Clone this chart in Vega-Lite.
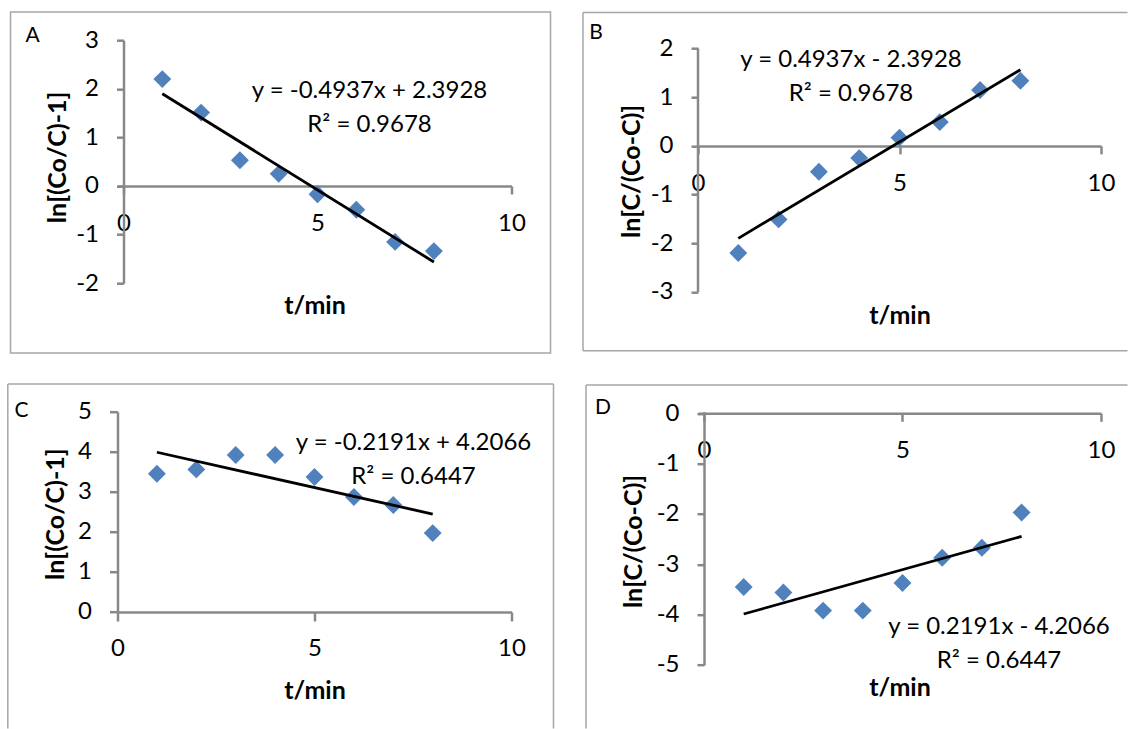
{
  "$schema": "https://vega.github.io/schema/vega-lite/v6.json",
  "background": "white",
  "padding": {"left": 6.5, "top": 10.2, "right": 0, "bottom": 0},
  "autosize": {"type": "pad"},
  "columns": 2,
  "align": "all",
  "bounds": "full",
  "spacing": {"row": 24.5, "column": 27.5},
  "datasets": {
    "A": [{"t": 1, "v": 2.2}, {"t": 2, "v": 1.51}, {"t": 3, "v": 0.53}, {"t": 4, "v": 0.25}, {"t": 5, "v": -0.17}, {"t": 6, "v": -0.49}, {"t": 7, "v": -1.15}, {"t": 8, "v": -1.34}],
    "B": [{"t": 1, "v": -2.2}, {"t": 2, "v": -1.51}, {"t": 3, "v": -0.53}, {"t": 4, "v": -0.25}, {"t": 5, "v": 0.17}, {"t": 6, "v": 0.49}, {"t": 7, "v": 1.15}, {"t": 8, "v": 1.34}],
    "C": [{"t": 1, "v": 3.45}, {"t": 2, "v": 3.56}, {"t": 3, "v": 3.92}, {"t": 4, "v": 3.92}, {"t": 5, "v": 3.37}, {"t": 6, "v": 2.87}, {"t": 7, "v": 2.67}, {"t": 8, "v": 1.97}],
    "D": [{"t": 1, "v": -3.45}, {"t": 2, "v": -3.56}, {"t": 3, "v": -3.92}, {"t": 4, "v": -3.92}, {"t": 5, "v": -3.37}, {"t": 6, "v": -2.87}, {"t": 7, "v": -2.67}, {"t": 8, "v": -1.97}]
  },
  "concat": [
    {
      "width": 394, "height": 243,
      "layer": [
        {"data": {"values": [{}]}, "mark": {"type": "rect", "fill": "transparent", "stroke": "#a6a6a6", "strokeWidth": 1.5},
         "encoding": {"x": {"datum": -2.912}, "x2": {"datum": 11.005}, "y": {"datum": 3.582}, "y2": {"datum": -3.434}}},
        {"data": {"name": "A"}, "mark": {"type": "point", "shape": "diamond", "filled": true, "size": 320, "color": "#4F81BD", "opacity": 1},
         "encoding": {
           "x": {"field": "t", "type": "quantitative", "scale": {"domain": [-0.1546, 10], "nice": false, "zero": false},
                 "axis": {"title": "t/min", "values": [0, 5, 10], "offset": -97.2, "tickSize": 8, "labelPadding": 30, "titleY": 120}},
           "y": {"field": "v", "type": "quantitative", "scale": {"domain": [-2, 3], "nice": false, "zero": false},
                 "axis": {"title": "ln[(Co/C)-1]", "values": [-2, -1, 0, 1, 2, 3], "labelExpr": "replace(datum.label, '\u2212', '-')", "offset": -6, "tickSize": 7, "labelPadding": 18, "titleX": -66, "titleY": 116.7}}
         }},
        {"data": {"name": "A"}, "transform": [{"regression": "v", "on": "t"}], "mark": {"type": "line", "color": "black", "strokeWidth": 2.8},
         "encoding": {"x": {"field": "t", "type": "quantitative", "title": "t/min"}, "y": {"field": "v", "type": "quantitative", "title": "ln[(Co/C)-1]"}}},
        {"data": {"values": [{}]}, "mark": {"type": "text", "fontSize": 24, "lineBreak": "\n", "lineHeight": 34, "align": "center", "baseline": "middle", "color": "black"},
         "encoding": {"x": {"datum": 6.34}, "y": {"datum": 1.957}, "text": {"value": "y = -0.4937x + 2.3928\nR² = 0.9678"}}},
        {"data": {"values": [{}]}, "mark": {"type": "text", "fontSize": 21, "align": "center", "baseline": "middle", "color": "black"},
         "encoding": {"x": {"datum": -2.345}, "y": {"datum": 3.088}, "text": {"value": "A"}}}
      ]
    },
    {
      "width": 403, "height": 251.7,
      "layer": [
        {"data": {"values": [{}]}, "mark": {"type": "rule", "color": "#a6a6a6", "strokeWidth": 1.5},
         "encoding": {"x": {"datum": -2.854}, "x2": {"datum": 10.658}, "y": {"datum": 2.74}}},
        {"data": {"values": [{}]}, "mark": {"type": "rule", "color": "#a6a6a6", "strokeWidth": 1.5},
         "encoding": {"x": {"datum": -2.854}, "y": {"datum": 2.74}, "y2": {"datum": -4.212}}},
        {"data": {"values": [{}]}, "mark": {"type": "rule", "color": "#a6a6a6", "strokeWidth": 1.5},
         "encoding": {"x": {"datum": -2.854}, "x2": {"datum": 10.658}, "y": {"datum": -4.212}}},
        {"data": {"values": [{}]}, "mark": {"type": "rule", "color": "#888888", "strokeWidth": 2.5},
         "encoding": {"x": {"datum": 0}, "y": {"datum": -3}, "y2": {"datum": 2}}},
        {"data": {"name": "B"}, "mark": {"type": "point", "shape": "diamond", "filled": true, "size": 320, "color": "#4F81BD", "opacity": 1},
         "encoding": {
           "x": {"field": "t", "type": "quantitative", "scale": {"domain": [0, 10], "nice": false, "zero": false},
                 "axis": {"title": "t/min", "values": [0, 5, 10], "offset": -146, "tickSize": 8, "labelPadding": 30, "titleY": 170}},
           "y": {"field": "v", "type": "quantitative", "scale": {"domain": [-3, 2.1726], "nice": false, "zero": false},
                 "axis": {"title": "ln[C/(Co-C)]", "values": [-3, -2, -1, 0, 1, 2], "labelExpr": "replace(datum.label, '\u2212', '-')", "domain": false, "tickSize": 7, "labelPadding": 18, "titleX": -66, "titleY": 130.7}}
         }},
        {"data": {"name": "B"}, "transform": [{"regression": "v", "on": "t"}], "mark": {"type": "line", "color": "black", "strokeWidth": 2.8},
         "encoding": {"x": {"field": "t", "type": "quantitative", "title": "t/min"}, "y": {"field": "v", "type": "quantitative", "title": "ln[C/(Co-C)]"}}},
        {"data": {"values": [{}]}, "mark": {"type": "text", "fontSize": 24, "lineBreak": "\n", "lineHeight": 34, "align": "center", "baseline": "middle", "color": "black"},
         "encoding": {"x": {"datum": 3.797}, "y": {"datum": 1.768}, "text": {"value": "y = 0.4937x - 2.3928\nR² = 0.9678"}}},
        {"data": {"values": [{}]}, "mark": {"type": "text", "fontSize": 21, "align": "center", "baseline": "middle", "color": "black"},
         "encoding": {"x": {"datum": -2.531}, "y": {"datum": 2.323}, "text": {"value": "B"}}}
      ]
    },
    {
      "width": 394, "height": 200.3,
      "layer": [
        {"data": {"values": [{}]}, "mark": {"type": "rule", "color": "#a6a6a6", "strokeWidth": 1.5},
         "encoding": {"x": {"datum": -2.784}, "x2": {"datum": 11.066}, "y": {"datum": 5.691}}},
        {"data": {"values": [{}]}, "mark": {"type": "rule", "color": "#a6a6a6", "strokeWidth": 1.5},
         "encoding": {"x": {"datum": -2.784}, "y": {"datum": 5.691}, "y2": {"datum": -2.908}}},
        {"data": {"values": [{}]}, "mark": {"type": "rule", "color": "#a6a6a6", "strokeWidth": 1.5},
         "encoding": {"x": {"datum": 11.066}, "y": {"datum": 5.691}, "y2": {"datum": -2.908}}},
        {"data": {"name": "C"}, "mark": {"type": "point", "shape": "diamond", "filled": true, "size": 320, "color": "#4F81BD", "opacity": 1},
         "encoding": {
           "x": {"field": "t", "type": "quantitative", "scale": {"domain": [0, 10], "nice": false, "zero": false},
                 "axis": {"title": "t/min", "values": [0, 5, 10], "offset": 0, "tickSize": 9, "labelPadding": 28, "titleY": 79}},
           "y": {"field": "v", "type": "quantitative", "scale": {"domain": [0, 5], "nice": false, "zero": false},
                 "axis": {"title": "ln[(Co/C)-1]", "values": [0, 1, 2, 3, 4, 5], "tickSize": 8, "labelPadding": 18, "titleX": -62, "titleY": 102}}
         }},
        {"data": {"name": "C"}, "transform": [{"regression": "v", "on": "t"}], "mark": {"type": "line", "color": "black", "strokeWidth": 2.8},
         "encoding": {"x": {"field": "t", "type": "quantitative", "title": "t/min"}, "y": {"field": "v", "type": "quantitative", "title": "ln[(Co/C)-1]"}}},
        {"data": {"values": [{}]}, "mark": {"type": "text", "fontSize": 24, "lineBreak": "\n", "lineHeight": 34, "align": "center", "baseline": "middle", "color": "black"},
         "encoding": {"x": {"datum": 7.513}, "y": {"datum": 4.219}, "text": {"value": "y = -0.2191x + 4.2066\nR² = 0.6447"}}},
        {"data": {"values": [{}]}, "mark": {"type": "text", "fontSize": 21, "align": "center", "baseline": "middle", "color": "black"},
         "encoding": {"x": {"datum": -2.437}, "y": {"datum": 5.017}, "text": {"value": "C"}}}
      ]
    },
    {
      "width": 403, "height": 253.3,
      "layer": [
        {"data": {"values": [{}]}, "mark": {"type": "rule", "color": "#a6a6a6", "strokeWidth": 1.5},
         "encoding": {"x": {"datum": -2.972}, "x2": {"datum": 10.668}, "y": {"datum": 0.562}}},
        {"data": {"values": [{}]}, "mark": {"type": "rule", "color": "#a6a6a6", "strokeWidth": 1.5},
         "encoding": {"x": {"datum": -2.972}, "y": {"datum": 0.562}, "y2": {"datum": -6.261}}},
        {"data": {"name": "D"}, "mark": {"type": "point", "shape": "diamond", "filled": true, "size": 320, "color": "#4F81BD", "opacity": 1},
         "encoding": {
           "x": {"field": "t", "type": "quantitative", "scale": {"domain": [-0.1511, 10], "nice": false, "zero": false},
                 "axis": {"title": "t/min", "values": [0, 5, 10], "offset": -251.7, "tickSize": 8, "labelPadding": 29.7, "titleY": 274.7}},
           "y": {"field": "v", "type": "quantitative", "scale": {"domain": [-5, 0.0318], "nice": false, "zero": false},
                 "axis": {"title": "ln[C/(Co-C)]", "values": [-5, -4, -3, -2, -1, 0], "labelExpr": "replace(datum.label, '\u2212', '-')", "offset": -6, "tickSize": 7, "labelPadding": 18, "titleX": -70.5, "titleY": 129.3}}
         }},
        {"data": {"name": "D"}, "transform": [{"regression": "v", "on": "t"}], "mark": {"type": "line", "color": "black", "strokeWidth": 2.8},
         "encoding": {"x": {"field": "t", "type": "quantitative", "title": "t/min"}, "y": {"field": "v", "type": "quantitative", "title": "ln[C/(Co-C)]"}}},
        {"data": {"values": [{}]}, "mark": {"type": "text", "fontSize": 24, "lineBreak": "\n", "lineHeight": 34, "align": "center", "baseline": "middle", "color": "black"},
         "encoding": {"x": {"datum": 7.431}, "y": {"datum": -4.255}, "text": {"value": "y = 0.2191x - 4.2066\nR² = 0.6447"}}},
        {"data": {"values": [{}]}, "mark": {"type": "text", "fontSize": 21, "align": "center", "baseline": "middle", "color": "black"},
         "encoding": {"x": {"datum": -2.544}, "y": {"datum": 0.105}, "text": {"value": "D"}}}
      ]
    }
  ],
  "config": {
    "view": {"stroke": null},
    "font": "Lato",
    "text": {"font": "Lato"},
    "axis": {
      "grid": false,
      "domainColor": "#888888", "domainWidth": 2.5,
      "tickColor": "#888888", "tickWidth": 2.5,
      "labelFont": "Lato", "labelFontSize": 24, "labelColor": "black",
      "titleFont": "Lato", "titleFontSize": 25, "titleFontWeight": "bold", "titleColor": "black",
      "labelFlush": false, "labelOverlap": false, "labelBound": false
    },
    "axisX": {"labelBaseline": "middle", "titleBaseline": "middle"},
    "axisY": {"labelBaseline": "middle", "labelAlign": "right", "titleBaseline": "middle"}
  }
}
